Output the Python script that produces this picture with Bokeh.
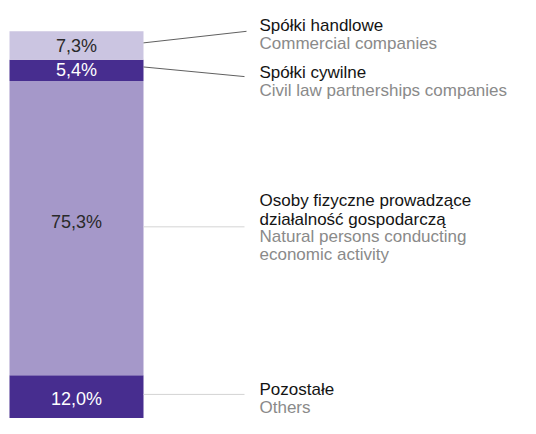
from bokeh.plotting import figure
from bokeh.models import ColumnDataSource, Range1d
from bokeh.core.properties import value
from bokeh.embed import file_html
from bokeh.resources import INLINE

# Data (bottom to top)
categories_pl = ["Pozostałe", "Osoby fizyczne prowadzące\ndziałalność gospodarczą", "Spółki cywilne", "Spółki handlowe"]
categories_en = ["Others", "Natural persons conducting\neconomic activity", "Civil law partnerships companies", "Commercial companies"]
shares = [12.0, 75.3, 5.4, 7.3]
pct_labels = ["12,0%", "75,3%", "5,4%", "7,3%"]

colors = ["#472d8f", "#a598c9", "#472d8f", "#cbc5e1"]
pct_colors = ["#ffffff", "#2a2a2a", "#ffffff", "#2a2a2a"]

FONT = value("Liberation Sans")
FS = "18px"
FS_LAB = "17px"

W, H = 520, 418
S = H / 434.0                 # vertical squeeze to fit the window
TOP = 32 * S                  # canvas px of the 100% edge
PX = 4.057 * S                # px per percent

y_hi = 100 + TOP / PX
y_lo = 100 - (H - TOP) / PX


def ref_to_data(y_ref):
    return 100 - (y_ref * S - TOP) / PX


bottoms, tops = [], []
acc = 0.0
for s in shares:
    bottoms.append(acc)
    acc += s
    tops.append(acc)
mids = [(b + t) / 2 for b, t in zip(bottoms, tops)]

p = figure(width=W, height=H, output_backend="svg", toolbar_location=None,
           x_range=Range1d(0, W), y_range=Range1d(y_lo, y_hi),
           min_border=0, min_border_left=0, min_border_right=0,
           min_border_top=0, min_border_bottom=0)
p.axis.visible = False
p.grid.visible = False
p.outline_line_color = None
p.background_fill_color = "white"
p.border_fill_color = "white"

bar_x0, bar_x1 = 9, 143
src = ColumnDataSource(dict(bottom=bottoms, top=tops, color=colors))
p.quad(left=bar_x0, right=bar_x1, bottom="bottom", top="top", fill_color="color",
       line_color=None, source=src)

# percent labels
pct_off = [0, 6, 0, 0]
psrc = ColumnDataSource(dict(x=[(bar_x0 + bar_x1) / 2] * 4, y=mids, t=pct_labels,
                             c=pct_colors, off=[-o for o in pct_off]))
p.text(x="x", y="y", text="t", text_color="c", y_offset="off", source=psrc,
       text_align="center", text_baseline="middle", text_font=FONT,
       text_font_size=FS)

# leader lines (reference px)
line_starts_ref = [409, 235, 69, 44]
line_ends_ref = [409, 235, 79, 32]
line_end_x = [244, 244, 244, 246]
line_colors = ["#d4d4d4", "#d4d4d4", "#606060", "#606060"]
for ys, ye, xe, lc in zip(line_starts_ref, line_ends_ref, line_end_x, line_colors):
    p.line(x=[bar_x1, xe], y=[ref_to_data(ys), ref_to_data(ye)], line_color=lc, line_width=1)

# right-hand labels: baselines in reference px
label_x = 259
baselines_pl = [[404], [208, 227], [75], [26]]
baselines_en = [[423], [245, 264], [93], [45]]
for pl, en, bpl, ben in zip(categories_pl, categories_en, baselines_pl, baselines_en):
    lines_pl = pl.split("\n")
    lines_en = en.split("\n")
    p.text(x=[label_x] * len(lines_pl), y=[ref_to_data(b) for b in bpl], text=lines_pl,
           text_color="#141414", text_baseline="alphabetic", text_font=FONT, text_font_size=FS_LAB)
    p.text(x=[label_x] * len(lines_en), y=[ref_to_data(b) for b in ben], text=lines_en,
           text_color="#8a8a8a", text_baseline="alphabetic", text_font=FONT, text_font_size=FS_LAB)

open("out.html", "w").write(file_html(p, INLINE))
